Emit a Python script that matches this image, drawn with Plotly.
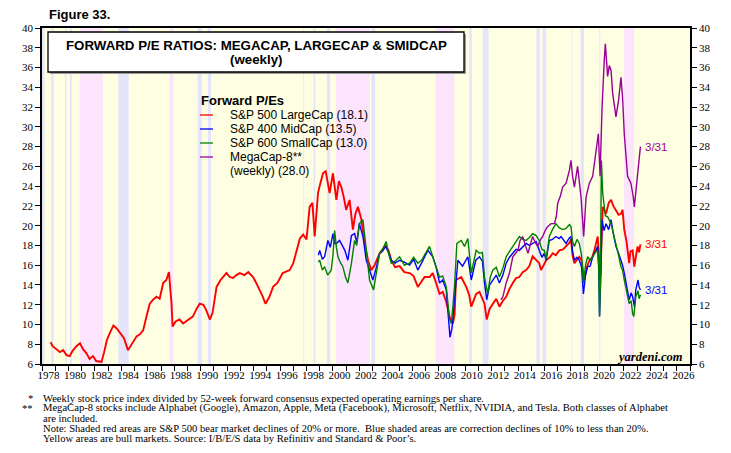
import plotly.graph_objects as go

# forward P/E readings (decimal year, value)
sp500_x = [1978.65, 1978.8, 1979.0, 1979.36, 1979.6, 1979.85, 1980.1, 1980.3, 1980.6, 1980.87,
           1981.1, 1981.35, 1981.6, 1981.85, 1982.1, 1982.5, 1982.7, 1982.9, 1983.15, 1983.4,
           1983.65, 1983.9, 1984.2, 1984.5, 1984.8, 1985.15, 1985.4, 1985.65, 1985.9, 1986.15,
           1986.4, 1986.66, 1986.9, 1987.16, 1987.4, 1987.6, 1987.8, 1987.87, 1988.1, 1988.4,
           1988.67, 1989.0, 1989.4, 1989.7, 1989.93, 1990.2, 1990.4, 1990.7, 1990.9, 1991.2,
           1991.5, 1991.95, 1992.2, 1992.45, 1992.7, 1992.96, 1993.3, 1993.6, 1993.96, 1994.2,
           1994.46, 1994.7, 1994.9, 1995.2, 1995.47, 1995.8, 1996.2, 1996.5, 1996.73, 1997.0,
           1997.2, 1997.5, 1997.75, 1998.0, 1998.24, 1998.45, 1998.62, 1998.87, 1999.05, 1999.25,
           1999.45, 1999.6, 1999.75, 2000.0, 2000.26, 2000.45, 2000.63, 2000.8, 2001.0, 2001.26,
           2001.51, 2001.7, 2001.89, 2002.14, 2002.4, 2002.65, 2002.9, 2003.15, 2003.53, 2003.98,
           2004.2, 2004.41, 2004.7, 2005.04, 2005.4, 2005.8, 2006.1, 2006.42, 2006.7, 2006.93,
           2007.3, 2007.55, 2007.8, 2008.06, 2008.3, 2008.57, 2008.82, 2009.07, 2009.2, 2009.3,
           2009.7, 2010.08, 2010.3, 2010.46, 2010.83, 2011.08, 2011.46, 2011.63, 2011.85, 2012.09,
           2012.35, 2012.59, 2012.85, 2013.1, 2013.35, 2013.6, 2013.85, 2014.1, 2014.35, 2014.61,
           2014.85, 2015.1, 2015.36, 2015.6, 2015.74, 2016.12, 2016.4, 2016.62, 2016.85, 2017.12,
           2017.4, 2017.63, 2017.9, 2018.0, 2018.12, 2018.26, 2018.63, 2018.8, 2019.0, 2019.2,
           2019.4, 2019.6, 2019.77, 2020.02, 2020.14, 2020.22, 2020.4, 2020.65, 2020.85, 2021.03,
           2021.2, 2021.4, 2021.6, 2021.78, 2021.9, 2022.03, 2022.2, 2022.4, 2022.5, 2022.66,
           2022.79, 2022.9, 2023.04, 2023.15, 2023.25]
sp500_pe = [8.2, 7.8, 7.6, 7.2, 7.4, 6.9, 6.8, 7.3, 7.8, 8.1,
            7.5, 7.1, 6.5, 6.8, 6.3, 6.2, 7.2, 8.4, 9.2, 9.9,
            9.6, 9.1, 8.6, 7.4, 8.1, 8.8, 9.0, 9.4, 10.8, 12.1,
            12.5, 12.8, 12.6, 14.2, 14.5, 15.3, 12.0, 9.8, 10.3, 10.5,
            10.1, 10.4, 10.8, 11.6, 12.1, 12.0, 11.5, 10.5, 11.2, 13.8,
            14.5, 15.2, 14.8, 14.7, 15.0, 15.2, 15.0, 15.3, 14.8, 14.2,
            13.5, 12.8, 12.1, 12.8, 13.8, 14.2, 15.2, 15.4, 15.5, 16.2,
            17.2, 18.7, 19.1, 18.6, 21.9, 22.3, 18.9, 23.3, 24.3, 25.3,
            25.5, 24.2, 23.3, 25.3, 22.6, 24.5, 23.9, 23.0, 21.6, 22.6,
            19.6, 21.2, 21.9, 20.7, 18.2, 16.5, 15.5, 16.0, 17.2, 18.0,
            17.5, 16.5, 15.8, 15.9, 15.3, 15.2, 14.9, 13.8, 14.3, 14.8,
            14.8, 15.2, 14.2, 13.1, 13.3, 12.3, 10.8, 10.1, 11.0, 14.5,
            14.8, 13.8, 13.0, 11.8, 13.1, 13.3, 12.1, 10.5, 11.6, 12.1,
            12.6, 11.8, 12.4, 12.8, 13.6, 14.2, 14.7, 14.8, 15.3, 15.5,
            15.9, 16.9, 16.5, 16.2, 15.5, 16.5, 16.8, 17.2, 17.0, 17.5,
            17.6, 17.9, 18.3, 18.6, 17.0, 16.2, 16.85, 16.5, 14.5, 15.8,
            16.5, 16.8, 17.5, 18.9, 16.2, 14.8, 21.9, 21.2, 22.3, 22.6,
            22.0, 21.6, 21.1, 21.2, 21.6, 19.6, 18.4, 16.2, 17.4, 17.5,
            15.85, 16.8, 17.9, 17.3, 18.1]

sp400_x = [1998.9, 1999.0, 1999.2, 1999.37, 1999.62, 1999.8, 2000.0, 2000.13, 2000.26, 2000.5,
           2000.7, 2000.9, 2001.13, 2001.4, 2001.64, 2001.8, 2002.0, 2002.27, 2002.52, 2002.77,
           2003.02, 2003.25, 2003.53, 2003.75, 2003.98, 2004.2, 2004.41, 2004.7, 2005.04, 2005.4,
           2005.8, 2006.1, 2006.42, 2006.7, 2006.93, 2007.18, 2007.55, 2007.8, 2008.06, 2008.3,
           2008.57, 2008.77, 2008.85, 2009.0, 2009.2, 2009.45, 2009.8, 2010.2, 2010.46, 2010.8,
           2011.08, 2011.3, 2011.46, 2011.63, 2011.85, 2012.09, 2012.35, 2012.59, 2012.85, 2013.1,
           2013.35, 2013.6, 2013.85, 2014.1, 2014.35, 2014.61, 2014.85, 2015.1, 2015.36, 2015.6,
           2015.8, 2015.98, 2016.12, 2016.36, 2016.6, 2016.86, 2017.1, 2017.25, 2017.45, 2017.63,
           2017.85, 2018.0, 2018.12, 2018.26, 2018.45, 2018.63, 2018.8, 2018.94, 2019.1, 2019.26,
           2019.45, 2019.64, 2019.85, 2020.02, 2020.1, 2020.16, 2020.25, 2020.34, 2020.5, 2020.65,
           2020.85, 2021.03, 2021.2, 2021.4, 2021.6, 2021.78, 2021.9, 2022.03, 2022.2, 2022.4,
           2022.55, 2022.66, 2022.8, 2022.9, 2023.07, 2023.15, 2023.25]
sp400_pe = [17.0, 17.5, 16.6, 16.85, 18.5, 17.8, 19.2, 18.2, 18.2, 18.5,
            18.0, 17.5, 16.5, 19.0, 19.2, 18.3, 20.2, 18.9, 16.5, 15.5,
            14.5, 15.6, 17.2, 17.4, 17.9, 17.3, 16.5, 16.2, 16.5, 16.3,
            16.0, 16.6, 15.5, 16.2, 16.8, 17.5, 16.85, 15.8, 14.2, 14.5,
            13.5, 9.8, 8.7, 9.6, 12.5, 16.5, 15.9, 16.85, 14.5, 16.5,
            16.85, 16.4, 14.2, 12.5, 14.0, 14.5, 15.0, 14.2, 15.0, 16.2,
            16.8, 17.2, 17.6, 17.5, 17.9, 18.2, 18.0, 18.2, 18.4, 17.5,
            16.8, 17.2, 16.5, 18.5, 18.6, 18.9, 18.7, 18.9, 18.5, 18.2,
            18.7, 18.9, 17.4, 16.5, 16.8, 16.5, 15.8, 13.1, 15.0, 15.85,
            15.9, 16.85, 17.4, 17.9, 15.5, 10.8, 14.5, 20.6, 19.5, 20.2,
            19.6, 20.6, 19.2, 17.9, 17.2, 16.5, 16.0, 15.2, 14.0, 12.5,
            13.2, 12.8, 11.8, 13.5, 14.5, 13.8, 13.5]

sp600_x = [1998.9, 1999.0, 1999.2, 1999.37, 1999.6, 1999.87, 2000.0, 2000.13, 2000.26, 2000.38,
           2000.55, 2000.75, 2000.95, 2001.13, 2001.4, 2001.64, 2001.8, 2002.0, 2002.27, 2002.52,
           2002.77, 2003.07, 2003.25, 2003.53, 2003.75, 2004.03, 2004.2, 2004.41, 2004.7, 2005.04,
           2005.4, 2005.8, 2006.1, 2006.42, 2006.7, 2007.0, 2007.3, 2007.55, 2007.8, 2008.06,
           2008.3, 2008.57, 2008.82, 2008.95, 2009.07, 2009.2, 2009.37, 2009.7, 2009.95, 2010.2,
           2010.46, 2010.83, 2011.08, 2011.3, 2011.46, 2011.7, 2011.9, 2012.09, 2012.35, 2012.59,
           2012.85, 2013.1, 2013.35, 2013.6, 2013.85, 2014.1, 2014.35, 2014.61, 2014.85, 2015.1,
           2015.36, 2015.6, 2015.8, 2015.98, 2016.12, 2016.36, 2016.6, 2016.86, 2017.1, 2017.37,
           2017.6, 2017.88, 2018.0, 2018.12, 2018.26, 2018.45, 2018.63, 2018.8, 2018.94, 2019.1,
           2019.26, 2019.45, 2019.64, 2019.85, 2020.02, 2020.1, 2020.16, 2020.22, 2020.3, 2020.4,
           2020.6, 2020.77, 2021.03, 2021.2, 2021.4, 2021.6, 2021.78, 2021.9, 2022.03, 2022.2,
           2022.4, 2022.55, 2022.66, 2022.75, 2022.9, 2023.07, 2023.15, 2023.25]
sp600_pe = [16.3, 16.5, 15.5, 15.85, 15.0, 15.5, 17.0, 19.5, 17.8, 16.85,
            16.3, 15.85, 14.8, 14.2, 16.2, 18.5, 18.0, 20.2, 20.6, 17.5,
            14.5, 13.5, 15.0, 17.2, 17.6, 18.4, 17.2, 16.2, 16.4, 16.85,
            16.0, 16.2, 16.8, 16.2, 16.5, 17.2, 17.9, 16.85, 15.9, 14.8,
            14.9, 13.8, 10.5, 10.1, 11.8, 14.0, 18.2, 18.5, 17.9, 18.7,
            15.2, 17.5, 17.2, 17.3, 14.8, 13.1, 14.8, 15.5, 15.8, 14.8,
            15.7, 16.85, 17.4, 17.9, 18.5, 18.9, 18.6, 18.5, 18.8, 19.2,
            19.0, 18.5, 17.6, 17.5, 16.6, 18.9, 19.6, 20.2, 19.8, 19.6,
            19.7, 20.1, 19.9, 18.4, 17.9, 18.6, 18.2, 17.0, 14.2, 16.0,
            16.85, 16.5, 16.85, 17.3, 17.5, 16.0, 10.8, 14.0, 26.6, 23.3,
            21.0, 20.9, 20.2, 19.3, 18.2, 17.0, 15.85, 15.5, 14.5, 13.5,
            12.1, 12.4, 11.1, 10.8, 12.8, 13.4, 12.6, 13.0]

mega8_x = [2012.7, 2012.85, 2013.1, 2013.35, 2013.6, 2013.8, 2013.99, 2014.15, 2014.35, 2014.55,
           2014.75, 2014.95, 2015.1, 2015.3, 2015.48, 2015.7, 2015.86, 2016.05, 2016.23, 2016.5,
           2016.75, 2016.9, 2017.0, 2017.2, 2017.37, 2017.63, 2017.88, 2018.0, 2018.12, 2018.26,
           2018.5, 2018.76, 2018.96, 2019.14, 2019.39, 2019.64, 2019.9, 2020.07, 2020.2, 2020.35,
           2020.52, 2020.6, 2020.77, 2020.9, 2021.03, 2021.15, 2021.3, 2021.4, 2021.6, 2021.78,
           2021.9, 2022.03, 2022.28, 2022.53, 2022.7, 2022.79, 2022.97, 2023.12, 2023.25]
mega8_pe = [12.5, 12.8, 14.2, 15.2, 16.85, 17.2, 17.5, 18.5, 18.9, 18.0,
            17.2, 18.2, 18.9, 18.3, 17.9, 18.6, 18.9, 19.5, 19.9, 20.2,
            20.2, 21.0, 22.3, 23.0, 23.9, 24.3, 25.6, 26.6, 25.0, 23.9,
            26.0, 22.9, 18.9, 22.9, 24.3, 25.0, 28.0, 29.3, 25.0, 32.0,
            36.8, 38.4, 35.1, 36.2, 35.7, 33.4, 32.0, 31.0, 32.7, 35.0,
            33.0, 29.3, 25.0, 24.3, 23.0, 21.9, 24.3, 26.0, 28.0]

# S&P 500 bear markets (red) and corrections (blue), decimal years
bear_markets = [(1980.85, 1982.6), (1987.65, 1987.92), (2000.22, 2002.78),
                (2007.77, 2009.18), (2020.13, 2020.22), (2022.0, 2022.78)]
corrections = [(1978.0, 1978.18), (1978.7, 1978.88), (1979.76, 1979.85), (1980.11, 1980.24),
               (1983.77, 1984.56), (1989.77, 1990.08), (1990.54, 1990.78), (1997.76, 1997.82),
               (1998.54, 1998.66), (1999.54, 1999.79), (2002.9, 2003.19), (2010.31, 2010.5),
               (2011.33, 2011.76), (2015.39, 2015.65), (2015.84, 2016.12), (2018.07, 2018.11),
               (2018.72, 2018.98)]

year_labels = list(range(1978, 2027, 2))
y_ticks = list(range(6, 41, 2))

W, H = 731, 453
L, R, T, B = 42, 41, 28, 89
plot_w = W - L - R
plot_h = H - T - B

SANS = "Liberation Sans, Arial, sans-serif"
SERIF = "Liberation Serif, Times New Roman, serif"
RED, BLUE, GREEN, PURPLE = "#ff0000", "#0000ff", "#008000", "#990099"


def px_x(px):
    return (px - L) / plot_w


def px_y(py):
    return (H - B - py) / plot_h


fig = go.Figure()

fig.add_trace(go.Scatter(x=sp500_x, y=sp500_pe, mode="lines",
                         line=dict(color=RED, width=1.9), hoverinfo="skip"))
fig.add_trace(go.Scatter(x=sp400_x, y=sp400_pe, mode="lines",
                         line=dict(color=BLUE, width=1.4), hoverinfo="skip"))
fig.add_trace(go.Scatter(x=sp600_x, y=sp600_pe, mode="lines",
                         line=dict(color=GREEN, width=1.4), hoverinfo="skip"))
fig.add_trace(go.Scatter(x=mega8_x, y=mega8_pe, mode="lines", yaxis="y2",
                         line=dict(color=PURPLE, width=1.4), hoverinfo="skip"))

shapes = []
for x0, x1 in bear_markets:
    shapes.append(dict(type="rect", xref="x", yref="paper", x0=x0, x1=x1, y0=0, y1=1,
                       fillcolor="#fce4fc", line_width=0, layer="below"))
for x0, x1 in corrections:
    shapes.append(dict(type="rect", xref="x", yref="paper", x0=x0, x1=x1, y0=0, y1=1,
                       fillcolor="#e4e4fa", line_width=0, layer="below"))

# title box with a light shadow
shapes.append(dict(type="rect", xref="paper", yref="paper",
                   x0=px_x(50), x1=px_x(466), y0=px_y(74), y1=px_y(34),
                   fillcolor="#9a9a9a", line_width=0, layer="above"))
shapes.append(dict(type="rect", xref="paper", yref="paper",
                   x0=px_x(48), x1=px_x(464), y0=px_y(72), y1=px_y(32),
                   fillcolor="white", line=dict(color="black", width=1.3), layer="above"))

annotations = [
    dict(text="<b>Figure 33.</b>", x=px_x(47), y=px_y(15), xanchor="left", yanchor="middle",
         font=dict(family=SANS, size=13, color="black")),
    dict(text="<b>FORWARD P/E RATIOS: MEGACAP, LARGECAP & SMIDCAP</b>", x=px_x(256), y=px_y(45),
         xanchor="center", yanchor="middle", font=dict(family=SANS, size=13.3, color="black")),
    dict(text="<b>(weekly)</b>", x=px_x(256), y=px_y(59),
         xanchor="center", yanchor="middle", font=dict(family=SANS, size=13.3, color="black")),
    dict(text="<b>Forward P/Es</b>", x=px_x(199), y=px_y(100), xanchor="left", yanchor="middle",
         font=dict(family=SANS, size=13, color="black")),
    dict(text="<i><b>yardeni.com</b></i>", x=px_x(685), y=px_y(357), xanchor="right",
         yanchor="middle", font=dict(family=SERIF, size=12.5, color="black")),
]

legend_rows = [
    (f"S&P 500 LargeCap ({sp500_pe[-1]:.1f})", RED, 115),
    (f"S&P 400 MidCap ({sp400_pe[-1]:.1f})", BLUE, 129),
    (f"S&P 600 SmallCap ({sp600_pe[-1]:.1f})", GREEN, 143),
    ("MegaCap-8**", PURPLE, 157),
]
for label, color, py in legend_rows:
    shapes.append(dict(type="line", xref="paper", yref="paper", x0=px_x(200), x1=px_x(213),
                       y0=px_y(py), y1=px_y(py), line=dict(color=color, width=1.3)))
    annotations.append(dict(text=label, x=px_x(228), y=px_y(py), xanchor="left",
                            yanchor="middle", font=dict(family=SANS, size=12, color="black")))
annotations.append(dict(text=f"(weekly) ({mega8_pe[-1]:.1f})", x=px_x(228), y=px_y(171),
                        xanchor="left", yanchor="middle",
                        font=dict(family=SANS, size=12, color="black")))

# end-of-series date labels
for xs, ys, color in [(mega8_x, mega8_pe, PURPLE), (sp500_x, sp500_pe, RED),
                      (sp400_x, sp400_pe, BLUE)]:
    annotations.append(dict(text="3/31", x=xs[-1], y=ys[-1], xref="x", yref="y",
                            xanchor="left", yanchor="middle", xshift=3,
                            font=dict(family=SANS, size=11.5, color=color)))

notes = [
    ("*", "Weekly stock price index divided by 52-week forward consensus expected operating earnings per share.", 398),
    ("**", "MegaCap-8 stocks include Alphabet (Google), Amazon, Apple, Meta (Facebook), Microsoft, Netflix, NVIDIA, and Tesla. Both classes of Alphabet", 408),
    ("", "are included.", 418),
    ("", "Note: Shaded red areas are S&P 500 bear market declines of 20% or more.  Blue shaded areas are correction declines of 10% to less than 20%.", 428),
    ("", "Yellow areas are bull markets. Source: I/B/E/S data by Refinitiv and Standard & Poor’s.", 438),
]
note_font = dict(family=SERIF, size=10.6, color="black")
for mark, text, py in notes:
    if mark:
        annotations.append(dict(text=mark, x=px_x(35), y=px_y(py), xanchor="right",
                                yanchor="middle", height=12, font=note_font))
    annotations.append(dict(text=text, x=px_x(41), y=px_y(py), xanchor="left",
                            yanchor="middle", height=12, font=note_font))

for a in annotations:
    a.setdefault("xref", "paper")
    a.setdefault("yref", "paper")
    a["showarrow"] = False

axis_font = dict(family=SERIF, size=11, color="black")
fig.update_layout(
    width=W, height=H,
    margin=dict(l=L, r=R, t=T, b=B),
    paper_bgcolor="white",
    plot_bgcolor="#fefee2",
    showlegend=False,
    shapes=shapes,
    annotations=annotations,
    xaxis=dict(range=[1978, 2027], tickmode="array",
               tickvals=[y + 0.5 for y in year_labels], ticktext=[str(y) for y in year_labels],
               ticks="", showgrid=False, zeroline=False,
               showline=True, linecolor="black", linewidth=1.6, mirror=True,
               tickfont=axis_font,
               minor=dict(tickmode="linear", tick0=1978, dtick=1, ticks="outside",
                          ticklen=5, tickcolor="black", tickwidth=1, showgrid=False)),
    yaxis=dict(range=[6, 40], tickmode="array", tickvals=y_ticks, ticks="outside",
               ticklen=5, tickcolor="black", showgrid=False, zeroline=False,
               showline=True, linecolor="black", linewidth=1.6, tickfont=axis_font),
    yaxis2=dict(range=[6, 40], tickmode="array", tickvals=y_ticks, ticks="outside",
                ticklen=5, tickcolor="black", showgrid=False, zeroline=False,
                overlaying="y", side="right",
                showline=True, linecolor="black", linewidth=1.6, tickfont=axis_font),
)

# drop the default page margin so the figure sits at the window's top-left corner
fig.write_html("out.html", config={"displayModeBar": False},
               post_script="document.body.style.margin='0';")
